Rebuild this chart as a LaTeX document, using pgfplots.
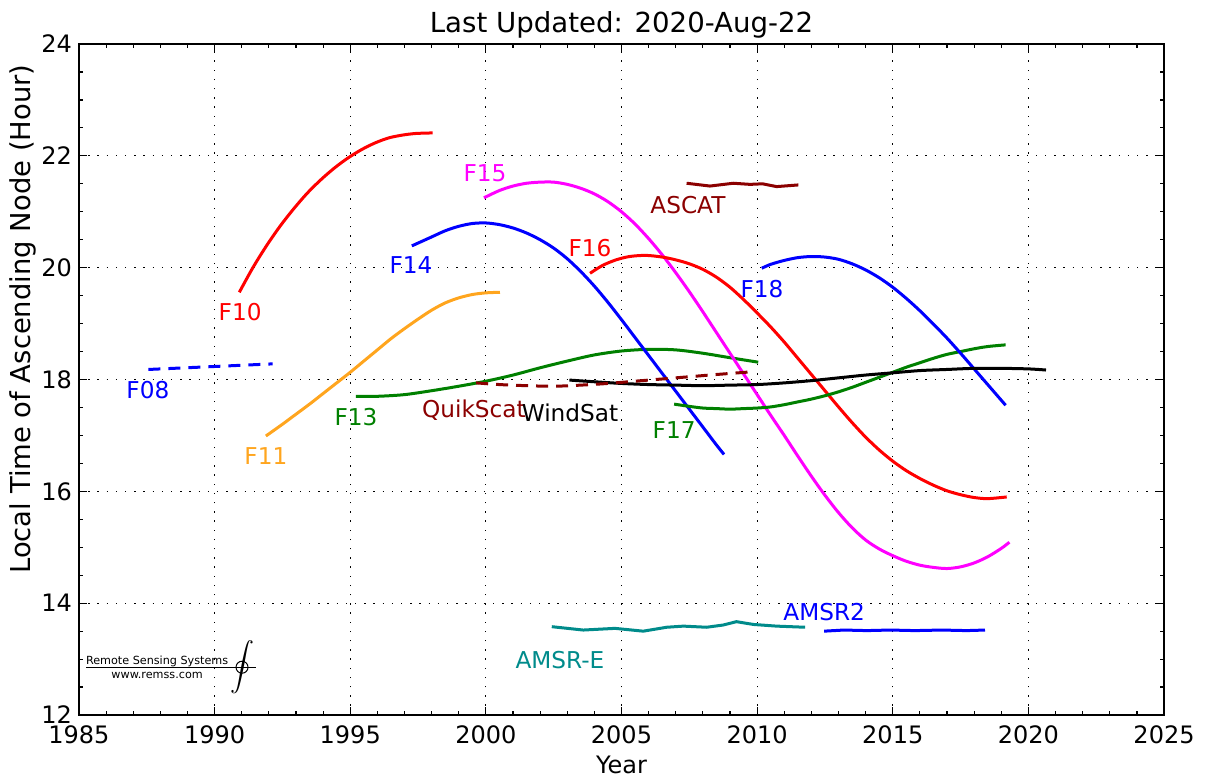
\documentclass[border=0pt]{standalone}
\usepackage{pgfplots}
\pgfplotsset{compat=1.18}
\usepackage{fontspec}
\setmainfont{DejaVu Sans}
\definecolor{cOrange}{RGB}{255,165,30}
\definecolor{cGreen}{RGB}{0,128,0}
\definecolor{cDarkRed}{RGB}{139,0,0}
\definecolor{cTeal}{RGB}{0,139,139}
\definecolor{cMagenta}{RGB}{255,0,255}
\definecolor{cRed}{RGB}{255,0,0}
\definecolor{cBlue}{RGB}{0,0,255}
\begin{document}
\begin{tikzpicture}
\begin{axis}[
  scale only axis, width=542.5pt, height=335.5pt,
  xmin=1985, xmax=2025, ymin=12, ymax=24,
  xtick={1985,1990,...,2025}, ytick={12,14,...,24},
  minor x tick num=4, minor y tick num=3,
  grid=major,
  major grid style={black, line width=0.6pt, dash pattern=on 0.7pt off 3.9pt},
  tick align=inside, major tick length=4pt, minor tick length=2pt,
  tick style={black, line width=0.6pt},
  axis line style={line width=0.9pt},
  /pgf/number format/assume math mode=true,
  /pgf/number format/1000 sep={},
  x tick label style={yshift=-2pt},
  tick label style={font=\fontsize{12}{14}\selectfont},
  every axis title shift=0pt,
  title={Last Updated: 2020-Aug-22},
  title style={font=\fontsize{13.8}{16}\selectfont, at={(axis description cs:0.5,1.0283)}, anchor=center},
  xlabel={Year},
  xlabel style={font=\fontsize{12}{14}\selectfont, at={(axis description cs:0.5,-0.0745)}, anchor=center},
  ylabel={Local Time of Ascending Node (Hour)},
  ylabel style={font=\fontsize{13.7}{16}\selectfont, at={(axis description cs:-0.0515,0.59)}, anchor=center},
  every axis plot/.append style={line width=1.5pt},
]
% F08
\addplot[cBlue, dash pattern=on 6pt off 4pt] coordinates {(1987.56,18.18) (1992.14,18.28)};
% F10
\addplot[cRed, smooth, tension=0.5] coordinates {(1990.91,19.56) (1991.41,20.00) (1991.91,20.39) (1992.41,20.74) (1992.91,21.05) (1993.41,21.33) (1993.91,21.57) (1994.41,21.78) (1994.91,21.96) (1995.41,22.11) (1995.91,22.23) (1996.41,22.32) (1996.91,22.37) (1997.41,22.40) (1998.04,22.41)};
% F11
\addplot[cOrange, smooth, tension=0.5] coordinates {(1991.89,16.99) (1992.5,17.20) (1993,17.38) (1993.5,17.56) (1994,17.75) (1994.5,17.94) (1995,18.13) (1995.5,18.33) (1996,18.53) (1996.5,18.73) (1997,18.91) (1997.5,19.08) (1998,19.24) (1998.5,19.37) (1999,19.46) (1999.5,19.52) (2000,19.55) (2000.52,19.56)};
% F13
\addplot[cGreen, smooth, tension=0.5] coordinates {(1995.21,17.70) (1996,17.70) (1997,17.73) (1998,17.80) (1999,17.88) (2000,17.97) (2001,18.08) (2002,18.21) (2003,18.33) (2004,18.44) (2005,18.51) (2006,18.54) (2007,18.53) (2008,18.47) (2009,18.39) (2010.04,18.31)};
% F14
\addplot[cBlue, smooth, tension=0.5] coordinates {(1997.27,20.39) (1998,20.55) (1998.5,20.66) (1999,20.74) (1999.5,20.79) (2000,20.80) (2000.5,20.77) (2001,20.71) (2001.5,20.62) (2002,20.50) (2002.5,20.35) (2003,20.16) (2003.5,19.93) (2004,19.67) (2004.5,19.38) (2005,19.07) (2005.5,18.75) (2006,18.43) (2006.5,18.11) (2007,17.79) (2007.5,17.47) (2008,17.15) (2008.5,16.83) (2008.78,16.66)};
% F15
\addplot[cMagenta, smooth, tension=0.5] coordinates {(1999.93,21.25) (2000.5,21.38) (2001,21.46) (2001.5,21.51) (2002,21.53) (2002.5,21.53) (2003,21.49) (2003.5,21.42) (2004,21.32) (2004.5,21.18) (2005,21.00) (2005.5,20.78) (2006,20.52) (2006.5,20.23) (2007,19.91) (2007.5,19.57) (2008,19.21) (2008.5,18.84) (2009,18.47) (2009.5,18.10) (2010,17.73) (2010.5,17.36) (2011,17.00) (2011.5,16.63) (2012,16.27) (2012.5,15.93) (2013,15.62) (2013.5,15.35) (2014,15.13) (2014.5,14.97) (2015,14.85) (2015.5,14.75) (2016,14.68) (2016.5,14.64) (2017,14.62) (2017.5,14.65) (2018,14.72) (2018.5,14.83) (2019,14.98) (2019.3,15.09)};
% F16
\addplot[cRed, smooth, tension=0.5] coordinates {(2003.84,19.90) (2004.3,20.04) (2004.8,20.14) (2005.3,20.20) (2005.9,20.22) (2006.5,20.19) (2007,20.14) (2007.5,20.07) (2008,19.97) (2008.5,19.83) (2009,19.65) (2009.5,19.43) (2010,19.19) (2010.5,18.94) (2011,18.67) (2011.5,18.38) (2012,18.09) (2012.5,17.80) (2013,17.51) (2013.5,17.23) (2014,16.97) (2014.5,16.74) (2015,16.54) (2015.5,16.37) (2016,16.23) (2016.5,16.11) (2017,16.01) (2017.5,15.94) (2018,15.89) (2018.5,15.87) (2019.2,15.90)};
% F17
\addplot[cGreen, smooth, tension=0.5] coordinates {(2006.94,17.56) (2007.5,17.52) (2008,17.49) (2008.5,17.48) (2009,17.47) (2009.5,17.48) (2010,17.49) (2010.5,17.51) (2011,17.55) (2011.5,17.60) (2012,17.65) (2012.5,17.71) (2013,17.78) (2013.5,17.86) (2014,17.95) (2014.5,18.04) (2015,18.13) (2015.5,18.22) (2016,18.30) (2016.5,18.38) (2017,18.45) (2017.5,18.50) (2018,18.55) (2018.5,18.59) (2019.16,18.62)};
% F18
\addplot[cBlue, smooth, tension=0.5] coordinates {(2010.17,19.99) (2010.5,20.06) (2011,20.13) (2011.5,20.18) (2012,20.20) (2012.5,20.19) (2013,20.15) (2013.5,20.07) (2014,19.96) (2014.5,19.82) (2015,19.65) (2015.5,19.45) (2016,19.23) (2016.5,18.99) (2017,18.74) (2017.5,18.47) (2018,18.19) (2018.5,17.91) (2019.16,17.54)};
% WindSat
\addplot[black, smooth, tension=0.5] coordinates {(2003.08,17.99) (2004,17.96) (2005,17.93) (2006,17.91) (2007,17.90) (2008,17.89) (2009,17.90) (2010,17.91) (2011,17.94) (2012,17.98) (2013,18.03) (2014,18.08) (2015,18.12) (2016,18.16) (2017,18.18) (2018,18.20) (2019,18.20) (2020,18.19) (2020.65,18.17)};
% QuikScat
\addplot[cDarkRed, smooth, tension=0.5, dash pattern=on 6pt off 4pt] coordinates {(1999.64,17.94) (2000.5,17.91) (2001.5,17.89) (2002.5,17.88) (2003.5,17.90) (2004.5,17.93) (2005.5,17.97) (2006.5,18.01) (2007.5,18.05) (2008.5,18.09) (2009.86,18.14)};
% ASCAT
\addplot[cDarkRed] coordinates {(2007.40,21.51) (2008.26,21.46) (2009.12,21.51) (2009.74,21.49) (2010.2,21.50) (2010.72,21.45) (2011.52,21.48)};
% AMSR-E
\addplot[cTeal] coordinates {(2002.43,13.58) (2003.59,13.52) (2004.76,13.55) (2005.80,13.50) (2006.67,13.57) (2007.28,13.59) (2008.14,13.57) (2008.75,13.61) (2009.24,13.67) (2009.86,13.62) (2010.72,13.59) (2011.77,13.57)};
% AMSR2
\addplot[cBlue] coordinates {(2012.47,13.50) (2013.2,13.52) (2014.04,13.51) (2014.9,13.52) (2015.82,13.51) (2016.8,13.52) (2017.73,13.51) (2018.40,13.52)};

% labels
\begin{scope}[every node/.style={font=\fontsize{11.6}{13}\selectfont, inner sep=0pt, anchor=center}]
\node[text=cBlue] at (axis cs:1987.54,17.81) {F08};
\node[text=cRed] at (axis cs:1990.94,19.21) {F10};
\node[text=cOrange] at (axis cs:1991.89,16.63) {F11};
\node[text=cGreen] at (axis cs:1995.21,17.33) {F13};
\node[text=cBlue] at (axis cs:1997.24,20.05) {F14};
\node[text=cMagenta] at (axis cs:1999.97,21.69) {F15};
\node[text=cDarkRed] at (axis cs:1999.56,17.45) {QuikScat};
\node[text=black] at (axis cs:2003.1,17.40) {WindSat};
\node[text=cRed] at (axis cs:2003.84,20.35) {F16};
\node[text=cDarkRed] at (axis cs:2007.45,21.12) {ASCAT};
\node[text=cGreen] at (axis cs:2006.94,17.09) {F17};
\node[text=cBlue] at (axis cs:2010.18,19.62) {F18};
\node[text=cBlue] at (axis cs:2012.47,13.84) {AMSR2};
\node[text=cTeal] at (axis cs:2002.73,12.99) {AMSR-E};
\end{scope}

% logo
\draw[black, line width=0.5pt] (axis cs:1985.26,12.855) -- (axis cs:1991.53,12.855);
\node[font=\fontsize{5.6}{6}\selectfont, anchor=base, inner sep=0pt] at (axis cs:1987.88,12.90) {Remote Sensing Systems};
\node[font=\fontsize{5.6}{6}\selectfont, anchor=center, inner sep=0pt] at (axis cs:1987.88,12.71) {www.remss.com};
\node[inner sep=0pt, anchor=center] at (axis cs:1991.01,12.855) {\scalebox{1.2}{$\displaystyle\int$}};
\draw[black, line width=0.5pt] (axis cs:1991.01,12.855) circle[radius=3pt];

\coordinate (bbl) at (rel axis cs:-0.0728,-0.0939);
\coordinate (btr) at (rel axis cs:1.0387,1.0656);
\end{axis}
\pgfresetboundingbox
\path (bbl) rectangle (btr);
\end{tikzpicture}
\end{document}
